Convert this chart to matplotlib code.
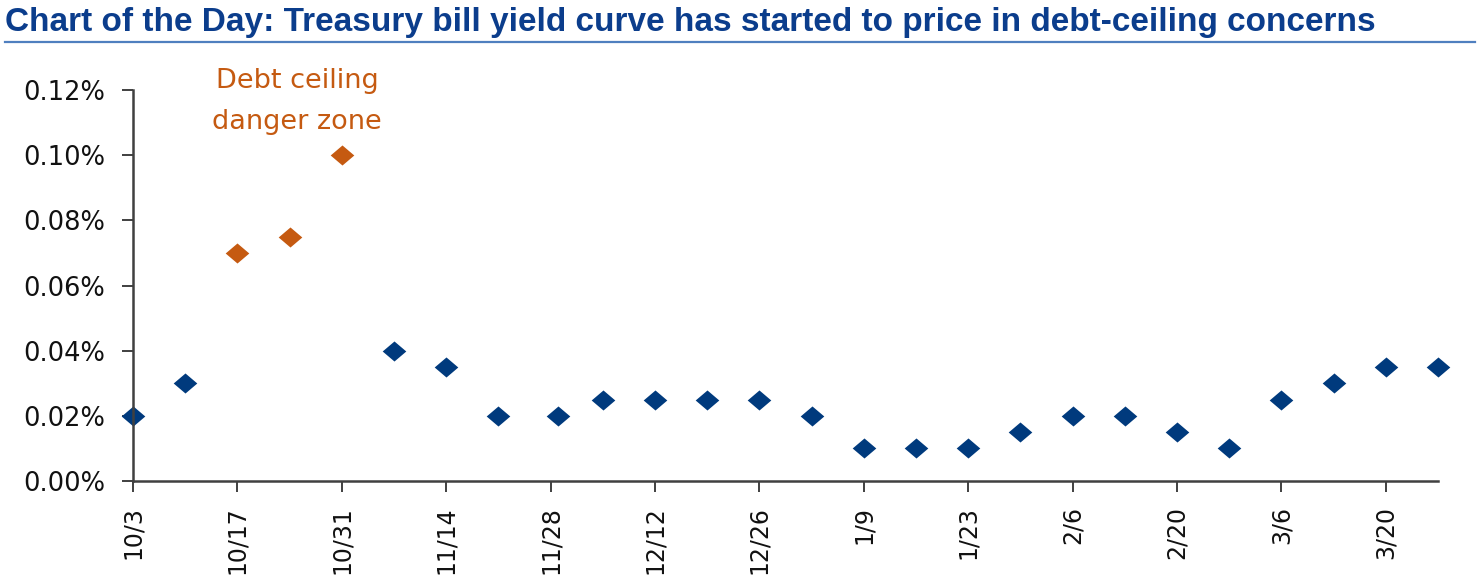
import datetime as dt
import matplotlib
matplotlib.use("Agg")
import matplotlib.pyplot as plt
from matplotlib.lines import Line2D

# maturity dates (2013-2014), yields in %
dates = ["2013-10-03", "2013-10-10", "2013-10-17", "2013-10-24", "2013-10-31",
         "2013-11-07", "2013-11-14", "2013-11-21", "2013-11-29", "2013-12-05",
         "2013-12-12", "2013-12-19", "2013-12-26", "2014-01-02", "2014-01-09",
         "2014-01-16", "2014-01-23", "2014-01-30", "2014-02-06", "2014-02-13",
         "2014-02-20", "2014-02-27", "2014-03-06", "2014-03-13", "2014-03-20",
         "2014-03-27"]
yields = [0.020, 0.030, 0.070, 0.075, 0.100,
          0.040, 0.035, 0.020, 0.020, 0.025,
          0.025, 0.025, 0.025, 0.020, 0.010,
          0.010, 0.010, 0.015, 0.020, 0.020,
          0.015, 0.010, 0.025, 0.030, 0.035,
          0.035]
danger = ["2013-10-17", "2013-10-24", "2013-10-31"]

tick_dates = ["2013-10-03", "2013-10-17", "2013-10-31", "2013-11-14", "2013-11-28",
              "2013-12-12", "2013-12-26", "2014-01-09", "2014-01-23", "2014-02-06",
              "2014-02-20", "2014-03-06", "2014-03-20"]
tick_labels = ["10/3", "10/17", "10/31", "11/14", "11/28", "12/12", "12/26",
               "1/9", "1/23", "2/6", "2/20", "3/6", "3/20"]
y_ticks = [0.00, 0.02, 0.04, 0.06, 0.08, 0.10, 0.12]

NAVY = "#003A7D"
ORANGE = "#C55A11"
AXIS = "#404040"

to_d = lambda s: dt.datetime.strptime(s, "%Y-%m-%d")
x_all = [to_d(d) for d in dates]

diamond = [(-1, 0), (0, 0.85), (1, 0), (0, -0.85), (-1, 0)]

fig = plt.figure(figsize=(14.8, 5.87), dpi=100)
ax = fig.add_axes([133 / 1480, 1 - 481 / 587, (1438 - 133) / 1480, (481 - 90) / 587])

for x, y, d in zip(x_all, yields, dates):
    c = ORANGE if d in danger else NAVY
    ax.plot([x], [y], linestyle="none", marker=diamond, markersize=17,
            color=c, markeredgewidth=0, clip_on=False)

ax.set_xlim(x_all[0], x_all[-1])
ax.set_ylim(0, 0.12)
ax.set_xticks([to_d(d) for d in tick_dates])
ax.set_xticklabels(tick_labels, rotation=90, fontsize=17, color="#111111")
ax.set_yticks(y_ticks)
ax.set_yticklabels([f"{v:.2f}%" for v in y_ticks], fontsize=18.5, color="#111111")

for s in ["top", "right"]:
    ax.spines[s].set_visible(False)
for s in ["left", "bottom"]:
    ax.spines[s].set_color(AXIS)
    ax.spines[s].set_linewidth(1.8)
ax.tick_params(axis="both", direction="out", length=8, width=1.4, color=AXIS)
ax.tick_params(axis="y", pad=12)
ax.tick_params(axis="x", pad=10)

ax.text(to_d("2013-10-25"), 0.1166, "Debt ceiling\ndanger zone", color=ORANGE,
        fontsize=19.5, ha="center", va="center", linespacing=1.75)

fig.text(5 / 1480, 1 - 22 / 587,
         "Chart of the Day: Treasury bill yield curve has started to price in debt-ceiling concerns",
         fontsize=24, fontweight="bold", color="#0B3D8C",
         family=["Liberation Sans Narrow", "Liberation Sans"], ha="left", va="center")
fig.add_artist(Line2D([5 / 1480, 1475 / 1480], [1 - 42 / 587, 1 - 42 / 587],
                      color="#4F7FBF", linewidth=1.6, transform=fig.transFigure))

fig.savefig("out.png", dpi=100)
